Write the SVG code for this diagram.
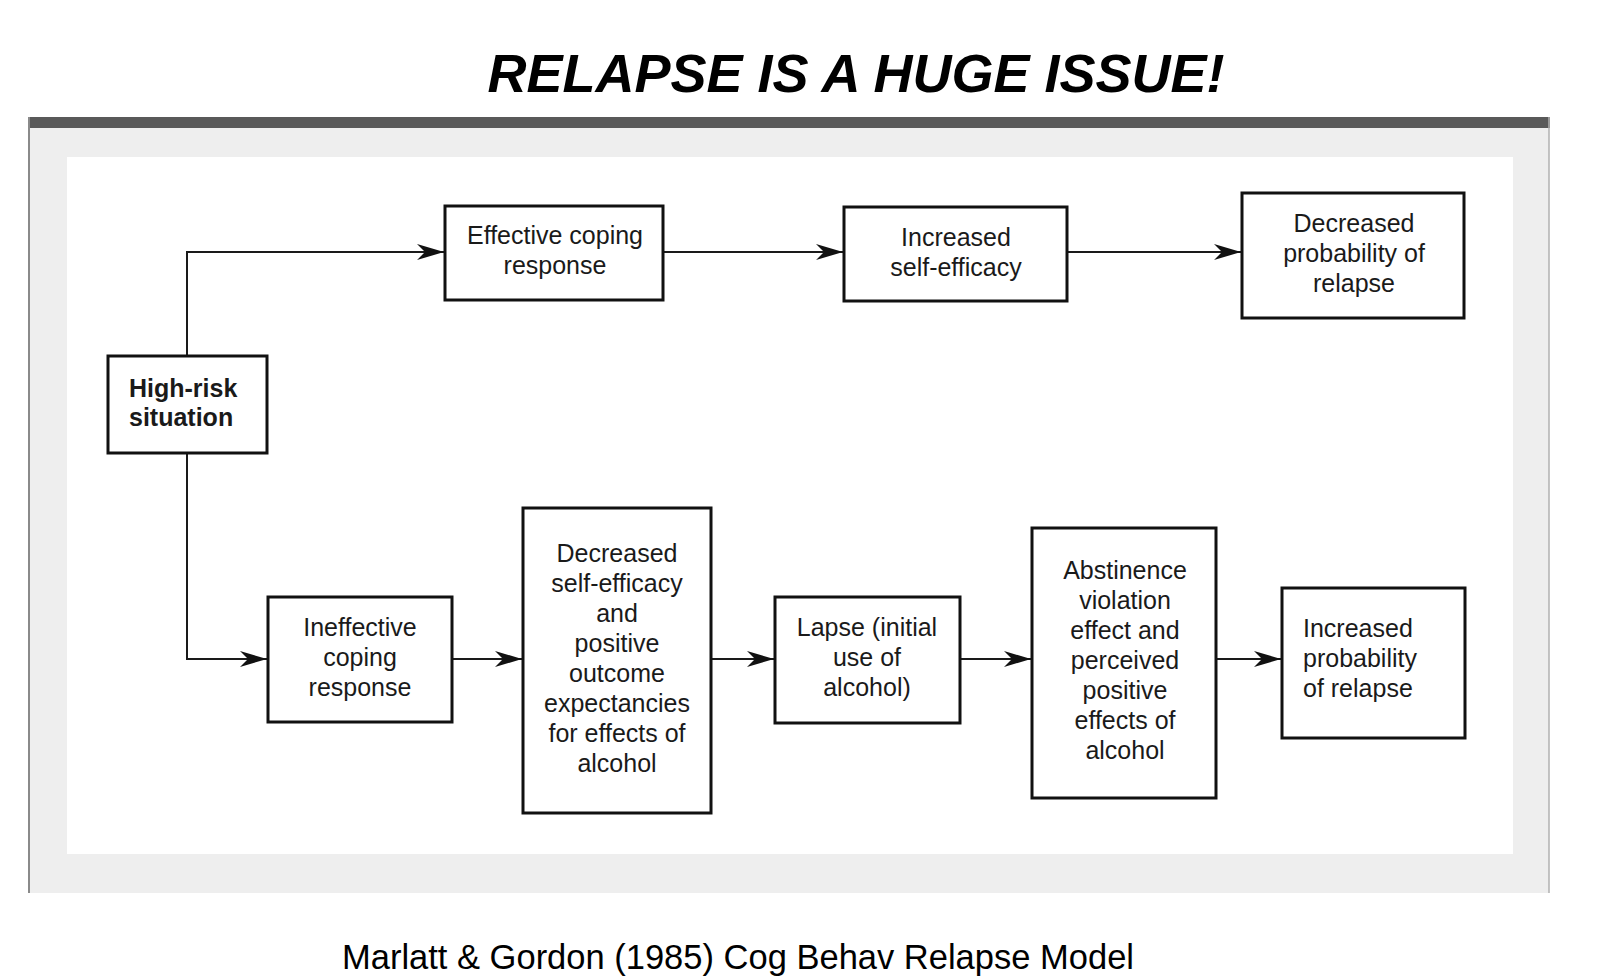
<svg xmlns="http://www.w3.org/2000/svg" width="1605" height="980" viewBox="0 0 1605 980">
<style>
.box{fill:#fff;stroke:#111;stroke-width:3}
.t{font-family:"Liberation Sans",Arial,sans-serif;font-size:25px;fill:#1a1a1a;text-anchor:middle}
.tl{text-anchor:start}
.b{font-weight:bold}
.c{fill:none;stroke:#1a1a1a;stroke-width:2}
</style>
<defs>
<marker id="ah" markerUnits="userSpaceOnUse" markerWidth="30" markerHeight="20" viewBox="-28 -10 30 20" refX="0" refY="0" orient="auto">
<path d="M0,0 L-27,-8 L-19,0 L-27,8 Z" fill="#111"/>
</marker>
</defs>
<rect width="1605" height="980" fill="#fff"/>
<text x="856" y="92" font-family="Liberation Sans,Arial,sans-serif" font-size="54" font-weight="bold" font-style="italic" text-anchor="middle" fill="#000">RELAPSE IS A HUGE ISSUE!</text>
<g id="frame">
<rect x="29" y="128" width="1520" height="765" fill="#eeeeee"/>
<rect x="67" y="157" width="1446" height="697" fill="#fff"/>
<rect x="28" y="117" width="1522" height="11" fill="#595959"/>
<line x1="29" y1="117" x2="29" y2="893" stroke="#8a8a8a" stroke-width="2"/>
<line x1="1549" y1="117" x2="1549" y2="893" stroke="#b0b0b0" stroke-width="1.5"/>
</g>
<g id="connectors">
<path class="c" d="M187,356 V252 H444" marker-end="url(#ah)"/>
<path class="c" d="M187,453 V659 H267" marker-end="url(#ah)"/>
<path class="c" d="M663,252 H843" marker-end="url(#ah)"/>
<path class="c" d="M1067,252 H1241" marker-end="url(#ah)"/>
<path class="c" d="M453,659 H522" marker-end="url(#ah)"/>
<path class="c" d="M711,659 H774" marker-end="url(#ah)"/>
<path class="c" d="M960,659 H1031" marker-end="url(#ah)"/>
<path class="c" d="M1216,659 H1281" marker-end="url(#ah)"/>
</g>
<g id="high-risk">
<rect class="box" x="108" y="356" width="159" height="97"/>
<text class="t tl b" x="129" y="397">High-risk</text>
<text class="t tl b" x="129" y="426">situation</text>
</g>
<g id="effective-coping">
<rect class="box" x="445" y="206" width="218" height="94"/>
<text class="t" x="555" y="244">Effective coping</text>
<text class="t" x="555" y="274">response</text>
</g>
<g id="increased-self-efficacy">
<rect class="box" x="844" y="207" width="223" height="94"/>
<text class="t" x="956" y="246">Increased</text>
<text class="t" x="956" y="276">self-efficacy</text>
</g>
<g id="decreased-probability">
<rect class="box" x="1242" y="193" width="222" height="125"/>
<text class="t" x="1354" y="232">Decreased</text>
<text class="t" x="1354" y="262">probability of</text>
<text class="t" x="1354" y="292">relapse</text>
</g>
<g id="ineffective-coping">
<rect class="box" x="268" y="597" width="184" height="125"/>
<text class="t" x="360" y="636">Ineffective</text>
<text class="t" x="360" y="666">coping</text>
<text class="t" x="360" y="696">response</text>
</g>
<g id="decreased-self-efficacy">
<rect class="box" x="523" y="508" width="188" height="305"/>
<text class="t" x="617" y="562">Decreased</text>
<text class="t" x="617" y="592">self-efficacy</text>
<text class="t" x="617" y="622">and</text>
<text class="t" x="617" y="652">positive</text>
<text class="t" x="617" y="682">outcome</text>
<text class="t" x="617" y="712">expectancies</text>
<text class="t" x="617" y="742">for effects of</text>
<text class="t" x="617" y="772">alcohol</text>
</g>
<g id="lapse">
<rect class="box" x="775" y="597" width="185" height="126"/>
<text class="t" x="867" y="636">Lapse (initial</text>
<text class="t" x="867" y="666">use of</text>
<text class="t" x="867" y="696">alcohol)</text>
</g>
<g id="abstinence-violation">
<rect class="box" x="1032" y="528" width="184" height="270"/>
<text class="t" x="1125" y="579">Abstinence</text>
<text class="t" x="1125" y="609">violation</text>
<text class="t" x="1125" y="639">effect and</text>
<text class="t" x="1125" y="669">perceived</text>
<text class="t" x="1125" y="699">positive</text>
<text class="t" x="1125" y="729">effects of</text>
<text class="t" x="1125" y="759">alcohol</text>
</g>
<g id="increased-probability">
<rect class="box" x="1282" y="588" width="183" height="150"/>
<text class="t tl" x="1303" y="637">Increased</text>
<text class="t tl" x="1303" y="667">probability</text>
<text class="t tl" x="1303" y="697">of relapse</text>
</g>
<text x="738" y="969" font-family="Liberation Sans,Arial,sans-serif" font-size="34.5" text-anchor="middle" fill="#000">Marlatt &amp; Gordon (1985) Cog Behav Relapse Model</text>
</svg>
